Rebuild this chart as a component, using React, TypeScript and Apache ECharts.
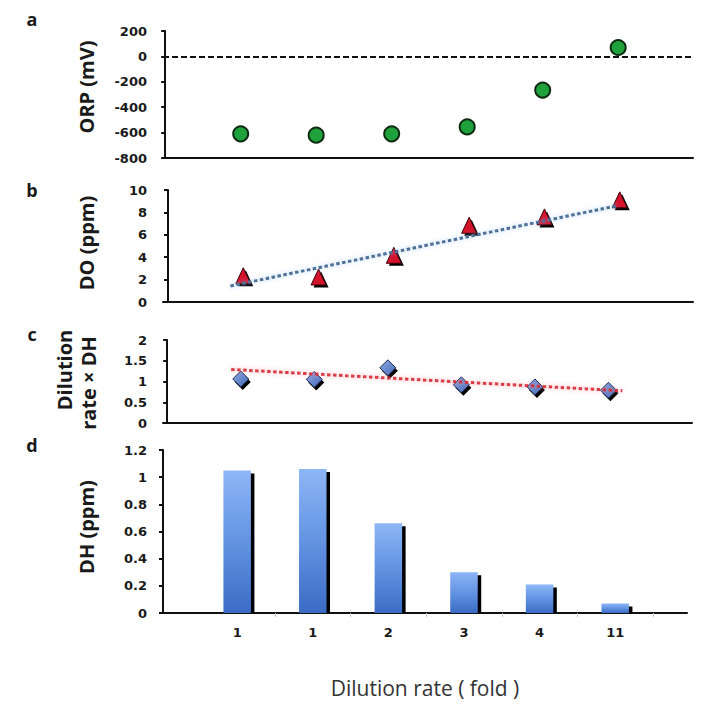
import React, { useEffect, useRef } from "react";
import * as echarts from "echarts";

const categories = ["1", "1", "2", "3", "4", "11"];
const orp = [-610, -620, -610, -555, -265, 70];
const doPpm = [2.34, 2.23, 4.17, 6.85, 7.6, 9.12];
const dilutionDH = [1.06, 1.05, 1.33, 0.92, 0.87, 0.79];
const dh = [1.05, 1.06, 0.66, 0.3, 0.21, 0.07];
const doTrend = [[0.83, 1.43], [5.95, 8.57]];
const dilutionDHTrend = [[0.87, 1.29], [6.19, 0.775]];
const orpTicks = { min: -800, max: 200, interval: 200 };
const doTicks = { min: 0, max: 10, interval: 2 };
const ddhTicks = { min: 0, max: 2, interval: 0.5 };
const dhTicks = { min: 0, max: 1.2, interval: 0.2 };

const TICK_FONT = { fontFamily: "DejaVu Sans", fontWeight: "bold", fontSize: 13, color: "#1a1a1a" } as const;
const NAME_FONT = "bold 20px 'Open Sans'";

function App() {
  const ref = useRef<HTMLDivElement>(null);
  useEffect(() => {
    document.body.style.margin = "0";
    const chart = echarts.init(ref.current!, null, { renderer: "svg" });
    const idx = (arr: number[]) => arr.map((v, i) => [i + 1, v]);

    const yAxisBase = (gridIndex: number, t: { min: number; max: number; interval: number }) => ({
      type: "value",
      gridIndex,
      min: t.min,
      max: t.max,
      interval: t.interval,
      splitLine: { show: false },
      axisLine: { show: true, lineStyle: { color: "#111", width: 2 } },
      axisTick: { show: true, length: 4, lineStyle: { color: "#111", width: 2 } },
      axisLabel: { ...TICK_FONT, margin: 16 },
    });
    const xAxisBase = (gridIndex: number, min: number, max: number) => ({
      type: "value",
      gridIndex,
      min,
      max,
      splitLine: { show: false },
      axisLine: { show: true, onZero: false, lineStyle: { color: "#111", width: 2 } },
      axisTick: { show: false },
      axisLabel: { show: false },
    });

    const triangle = (params: any, api: any) => {
      const p = api.coord([api.value(0), api.value(1)]);
      const hw = 7.5, hh = 8;
      const pts = (dx: number, dy: number) => [
        [p[0] - hw + dx, p[1] + hh + dy],
        [p[0] + dx, p[1] - hh + dy],
        [p[0] + hw + dx, p[1] + hh + dy],
      ];
      return {
        type: "group",
        children: [
          { type: "polygon", shape: { points: pts(2.5, 2.5) }, style: { fill: "#000" } },
          { type: "polygon", shape: { points: pts(0, 0) }, style: { fill: "#d4132b", stroke: "#3a0008", lineWidth: 1 } },
        ],
      };
    };
    const diamond = (params: any, api: any) => {
      const p = api.coord([api.value(0), api.value(1)]);
      const r = 8;
      const pts = (dx: number, dy: number) => [
        [p[0] + dx, p[1] - r + dy],
        [p[0] + r + dx, p[1] + dy],
        [p[0] + dx, p[1] + r + dy],
        [p[0] - r + dx, p[1] + dy],
      ];
      return {
        type: "group",
        children: [
          { type: "polygon", shape: { points: pts(2, 3) }, style: { fill: "#000" } },
          {
            type: "polygon",
            shape: { points: pts(0, 0) },
            style: {
              fill: new echarts.graphic.LinearGradient(0, 0, 1, 1, [
                { offset: 0, color: "#8fabe6" },
                { offset: 1, color: "#4268b6" },
              ]),
              stroke: "#1d2b55",
              lineWidth: 1,
            },
          },
        ],
      };
    };
    const bar = (params: any, api: any) => {
      const top = api.coord([api.value(0), api.value(1)]);
      const base = api.coord([api.value(0), 0]);
      const w = 27.5;
      const left = top[0] - w / 2;
      const h = base[1] - top[1];
      return {
        type: "group",
        children: [
          { type: "rect", shape: { x: left + 3.5, y: top[1] + 3, width: w, height: Math.max(h - 3, 0) }, style: { fill: "#000" } },
          {
            type: "rect",
            shape: { x: left, y: top[1], width: w, height: h },
            style: {
              fill: new echarts.graphic.LinearGradient(0, 0, 0, 1, [
                { offset: 0, color: "#8db6f6" },
                { offset: 0.5, color: "#6393e2" },
                { offset: 1, color: "#3a6cc4" },
              ]),
            },
          },
        ],
      };
    };

    const nameText = (text: string, x: number, y: number) => ({
      type: "text",
      x,
      y,
      rotation: Math.PI / 2,
      style: { text, font: NAME_FONT, fill: "#1a1a1a", align: "center", verticalAlign: "middle" },
    });
    const letter = (text: string, x: number, y: number) => ({
      type: "text",
      x,
      y,
      style: { text, font: "bold 18px 'Open Sans'", fill: "#1a1a1a", align: "center", verticalAlign: "middle" },
    });

    chart.setOption({
      animation: false,
      backgroundColor: "#fff",
      grid: [
        { left: 163, top: 31, width: 530, height: 127 },
        { left: 163, top: 190, width: 530, height: 112 },
        { left: 163, top: 340, width: 529, height: 83 },
        { left: 163, top: 450, width: 524, height: 163 },
      ],
      xAxis: [
        xAxisBase(0, -0.029, 6.991),
        xAxisBase(1, -0.066, 6.973),
        xAxisBase(2, -0.057, 7.136),
        {
          ...xAxisBase(3, 0.019, 6.95),
          axisTick: { show: true, length: 4, customValues: [1.5, 2.5, 3.5, 4.5, 5.5, 6.5], lineStyle: { color: "#c8c8c8", width: 1 } },
          axisLabel: {
            show: true,
            ...TICK_FONT,
            margin: 13,
            customValues: [1, 2, 3, 4, 5, 6],
            formatter: (v: number) => categories[Math.round(v) - 1] ?? "",
          },
        },
      ],
      yAxis: [
        yAxisBase(0, orpTicks),
        yAxisBase(1, doTicks),
        yAxisBase(2, ddhTicks),
        yAxisBase(3, dhTicks),
      ],
      series: [
        {
          type: "scatter",
          xAxisIndex: 0,
          yAxisIndex: 0,
          data: idx(orp),
          symbol: "circle",
          symbolSize: 15,
          itemStyle: { color: "#1fa23c", borderColor: "#0f2a12", borderWidth: 2, opacity: 1 },
          z: 5,
          markLine: {
            silent: true,
            symbol: "none",
            label: { show: false },
            lineStyle: { type: [6, 3], color: "#111", width: 2 },
            data: [{ yAxis: 0 }],
          },
        },
        { type: "custom", xAxisIndex: 1, yAxisIndex: 1, data: idx(doPpm), renderItem: triangle, z: 3 },
        {
          type: "line",
          xAxisIndex: 1,
          yAxisIndex: 1,
          data: doTrend,
          symbol: "none",
          z: 4,
          lineStyle: { color: "#4f7197", width: 3, type: [3.5, 2.5], cap: "butt", shadowColor: "rgba(140,185,235,0.7)", shadowBlur: 5 },
        },
        { type: "custom", xAxisIndex: 2, yAxisIndex: 2, data: idx(dilutionDH), renderItem: diamond, z: 3 },
        {
          type: "line",
          xAxisIndex: 2,
          yAxisIndex: 2,
          data: dilutionDHTrend,
          symbol: "none",
          z: 4,
          lineStyle: { color: "#d62a33", width: 3, type: [3.5, 2.5], cap: "butt", opacity: 0.9, shadowColor: "rgba(255,130,140,0.7)", shadowBlur: 5 },
        },
        { type: "custom", xAxisIndex: 3, yAxisIndex: 3, data: idx(dh), renderItem: bar, z: 2 },
      ],
      graphic: [
        letter("a", 32, 19),
        letter("b", 32, 190),
        letter("c", 32, 334),
        letter("d", 32, 445),
        nameText("ORP (mV)", 86, 87),
        nameText("DO (ppm)", 86, 243),
        nameText("Dilution", 64, 370),
        nameText("rate × DH", 88, 383),
        nameText("DH (ppm)", 86, 527),
        {
          type: "text",
          x: 425,
          y: 688,
          style: { text: "Dilution rate ( fold )", font: "21px 'Open Sans'", fill: "#333", align: "center", verticalAlign: "middle" },
        },
      ],
    });
    return () => chart.dispose();
  }, []);
  return <div ref={ref} style={{ width: 727, height: 711 }} />;
}

export default App;
